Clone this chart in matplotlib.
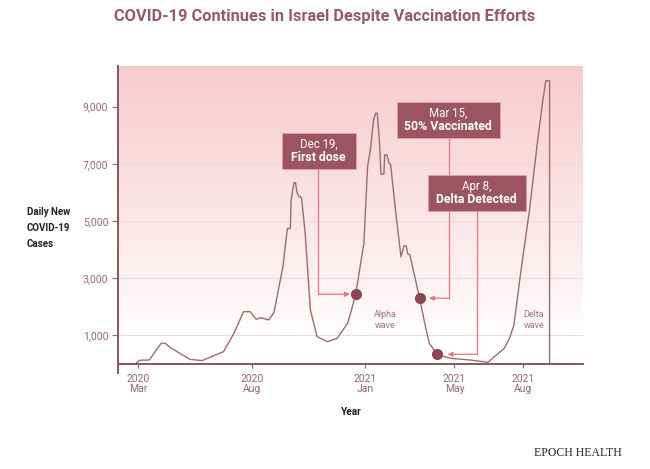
import matplotlib
matplotlib.use("Agg")
import matplotlib.pyplot as plt
import matplotlib.dates as mdates
from matplotlib.patches import Rectangle
import numpy as np
import pandas as pd

# ---------------- data ----------------
dates = ['2020-02-27', '2020-03-03', '2020-03-16', '2020-04-01', '2020-04-07', '2020-04-13',
         '2020-05-10', '2020-05-26', '2020-06-24', '2020-07-08', '2020-07-21', '2020-07-30',
         '2020-08-07', '2020-08-13', '2020-08-24', '2020-08-31', '2020-09-12', '2020-09-18',
         '2020-09-22', '2020-09-23', '2020-09-27', '2020-09-29', '2020-10-01', '2020-10-04',
         '2020-10-07', '2020-10-12', '2020-10-19', '2020-10-28', '2020-11-11', '2020-11-24',
         '2020-12-08', '2020-12-14', '2020-12-19', '2020-12-30', '2021-01-04', '2021-01-08',
         '2021-01-12', '2021-01-15', '2021-01-17', '2021-01-20', '2021-01-22', '2021-01-26',
         '2021-01-27', '2021-01-30', '2021-02-02', '2021-02-04', '2021-02-11', '2021-02-18',
         '2021-02-22', '2021-02-25', '2021-02-27', '2021-03-02', '2021-03-15', '2021-03-22',
         '2021-03-28', '2021-04-08', '2021-04-25', '2021-05-22', '2021-06-15', '2021-07-07',
         '2021-07-14', '2021-07-20', '2021-07-29', '2021-08-10', '2021-08-21', '2021-08-28',
         '2021-09-01', '2021-09-06', '2021-09-06']
cases = [20, 130, 140, 720, 720, 580,
         160, 120, 430, 1070, 1830, 1830,
         1560, 1620, 1540, 1800, 3400, 4740,
         4740, 5730, 6340, 6340, 5990, 5850,
         5830, 4570, 1890, 955, 780, 900,
         1420, 1950, 2440, 4220, 6900, 7540,
         8530, 8770, 8770, 7770, 6640, 6640,
         7310, 7310, 7020, 6980, 5270, 3750,
         4130, 4130, 3850, 3810, 2300, 1420,
         720, 340, 200, 140, 60, 550,
         900, 1360, 3170, 5390, 7830, 9230,
         9900, 9900, 0]

event_dates = ['2020-12-19', '2021-03-15', '2021-04-08']
event_values = [2440, 2300, 340]
event_top = ['Dec 19,', 'Mar 15,', 'Apr 8,']
event_bottom = ['First dose', '50% Vaccinated', 'Delta Detected']

yticks = [1000, 3000, 5000, 7000, 9000]
xtick_dates = ['2020-03-01', '2020-08-01', '2021-01-01', '2021-05-01', '2021-08-01']
xtick_labels = ['2020\nMar', '2020\nAug', '2021\nJan', '2021\nMay', '2021\nAug']

# ---------------- style ----------------
FONT = ['Roboto', 'DejaVu Sans']
plt.rcParams['font.family'] = FONT
LINE = '#9A6C72'
DOT = '#8C4553'
BOX = '#9B5460'
ARROW = '#E8767E'
TICK = '#9C6878'
SPINE = '#8A5560'

fig = plt.figure(figsize=(6.5, 4.69), dpi=100)
ax = fig.add_axes([118/650, 1-364/469, 465/650, 298/469])

x0 = mdates.date2num(pd.Timestamp('2020-02-03'))
x1 = mdates.date2num(pd.Timestamp('2021-10-21'))
ax.set_xlim(x0, x1)
ax.set_ylim(0, 10420)

# gradient background
top = np.array([247, 203, 207]) / 255.0
n = 256
t = np.linspace(0, 1, n)  # 0 bottom -> 1 top
w = np.clip((t - 0.08) / 0.92, 0, 1) ** 0.9
grad = (1 - w)[:, None] * np.array([1, 1, 1]) + w[:, None] * top
img = np.repeat(grad[:, None, :], 2, axis=1)
ax.imshow(img, extent=[0, 1, 0, 1], transform=ax.transAxes, origin='lower',
          aspect='auto', zorder=0)

# grid
for yv in yticks:
    ax.axhline(yv, color='#ECD6D9', lw=0.6, zorder=1)

d = pd.to_datetime(dates)
ax.plot(d, cases, color=LINE, lw=1.0, zorder=3)

ed = pd.to_datetime(event_dates)
ax.plot(ed, event_values, 'o', color=DOT, ms=7, zorder=5)

# axes styling
for s in ['top', 'right']:
    ax.spines[s].set_visible(False)
ax.spines['left'].set_color(SPINE)
ax.spines['left'].set_linewidth(1.4)
ax.spines['bottom'].set_color(SPINE)
ax.spines['bottom'].set_linewidth(1.4)
ax.spines['left'].set_zorder(6)
ax.spines['bottom'].set_zorder(6)
ax.plot([0, 0], [-0.03, 0], transform=ax.transAxes, color=SPINE, lw=1.4,
        clip_on=False, zorder=6)

ax.set_yticks(yticks)
ax.set_yticklabels([f'{v:,}' for v in yticks])
ax.set_xticks(pd.to_datetime(xtick_dates))
ax.set_xticklabels(xtick_labels, linespacing=1.05)
ax.tick_params(axis='y', colors=TICK, labelsize=7.5, length=4, width=0.9, pad=3)
ax.tick_params(axis='x', colors=TICK, labelsize=7.5, length=3, width=0.9, pad=4)
for lab in ax.get_xticklabels() + ax.get_yticklabels():
    lab.set_color(TICK)

# annotations (boxes with elbow arrows), positions in axes fraction
box_centers = [(0.4316, 0.7138), (0.7103, 0.8198), (0.7716, 0.5738)]
box_widths = [0.159, 0.222, 0.2114]
box_h = 0.1208
stem_x = [0.4308, 0.7118, 0.7710]
tip_x = [0.4990, 0.6690, 0.7090]
for i in range(3):
    cx, cy = box_centers[i]
    bw = box_widths[i]
    ax.add_patch(Rectangle((cx - bw/2, cy - box_h/2), bw, box_h, transform=ax.transAxes,
                           facecolor=BOX, edgecolor='#E3A2A9', lw=0.6, zorder=7))
    ax.text(cx, cy + 0.023, event_top[i], transform=ax.transAxes, ha='center', va='center',
            color='white', fontsize=8.3, zorder=8)
    ax.text(cx, cy - 0.022, event_bottom[i], transform=ax.transAxes, ha='center', va='center',
            color='white', fontsize=8.8, fontweight='bold', zorder=8)
    yf = event_values[i] / 10420
    ax.plot([stem_x[i], stem_x[i]], [cy - box_h/2, yf], transform=ax.transAxes,
            color=ARROW, lw=0.9, zorder=4)
    ax.annotate('', xy=(tip_x[i], yf), xytext=(stem_x[i], yf),
                xycoords='axes fraction', textcoords='axes fraction',
                arrowprops=dict(arrowstyle='-|>', color=ARROW, lw=0.9,
                                mutation_scale=7, shrinkA=0, shrinkB=0), zorder=4)

ax.text((385-118)/465, (364-320)/298, 'Alpha\nwave', transform=ax.transAxes, ha='center',
        va='center', color='#A87480', fontsize=6.5, linespacing=1.2)
ax.text((534-118)/465, (364-320)/298, 'Delta\nwave', transform=ax.transAxes, ha='center',
        va='center', color='#A87480', fontsize=6.5, linespacing=1.2)

# texts
fig.text(0.5, 1 - 17/469, 'COVID-19 Continues in Israel Despite Vaccination Efforts',
         ha='center', va='center', color='#97596A', fontsize=11.8, fontweight='bold')
fig.text(27/650, 1 - 228/469, 'Daily New\nCOVID-19\nCases', ha='left', va='center',
         color='#222222', fontsize=7, fontweight='bold', linespacing=1.75)
fig.text(351/650, 1 - 412/469, 'Year', ha='center', va='center', color='#222222',
         fontsize=7.2, fontweight='bold')
fig.text(578/650, 1 - 453/469, 'EPOCH HEALTH', ha='center', va='center', color='#222222',
         fontsize=8.5, family=['Liberation Serif', 'DejaVu Serif'])

fig.savefig('out.png', dpi=100)
